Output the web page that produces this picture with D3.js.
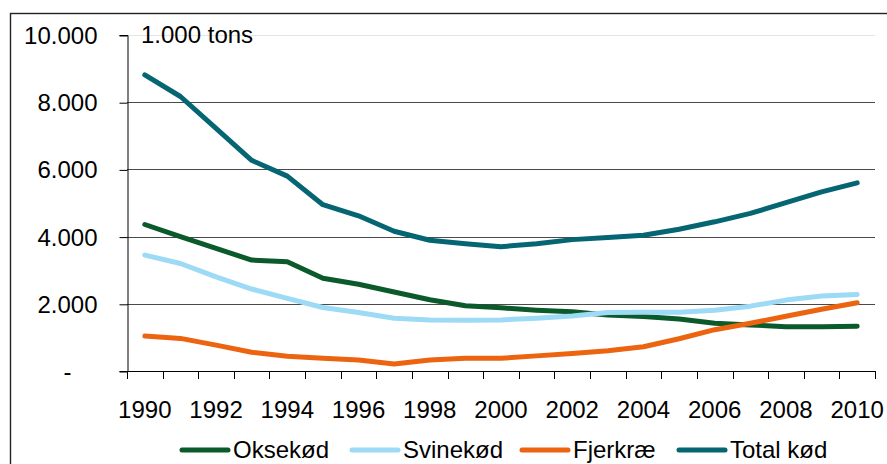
<!DOCTYPE html>
<html>
<head>
<meta charset="utf-8">
<script src="https://cdn.jsdelivr.net/npm/d3@7"></script>
<style>
  html, body { margin: 0; padding: 0; background: #fff; }
  svg { display: block; }
  text { font-family: "Liberation Sans", Arial, sans-serif; fill: #000; }
</style>
</head>
<body>
<svg id="chart" width="887" height="464"></svg>
<script>
// ---- data ----
const years = d3.range(1990, 2011);
const yTicks = [0, 2000, 4000, 6000, 8000, 10000];
const xTickLabels = ["1990","1992","1994","1996","1998","2000","2002","2004","2006","2008","2010"];
const unitLabel = "1.000 tons";

const seriesNames = ["Oksekød", "Svinekød", "Fjerkræ", "Total kød"];
const seriesColors = ["#0b5a2c", "#9cdaf6", "#ec6410", "#056573"];

const oksekod = [4360, 4000, 3650, 3300, 3250, 2760, 2580, 2350, 2120, 1940, 1880, 1810, 1760, 1670, 1620, 1550, 1420, 1370, 1320, 1320, 1330];
const svinekod = [3450, 3200, 2800, 2440, 2160, 1890, 1740, 1570, 1520, 1510, 1520, 1570, 1640, 1740, 1750, 1750, 1810, 1930, 2110, 2230, 2280];
const fjerkrae = [1040, 970, 770, 560, 440, 380, 330, 210, 330, 380, 380, 450, 520, 600, 720, 960, 1230, 1420, 1630, 1840, 2030];
const totalKod = [8810, 8170, 7220, 6270, 5800, 4950, 4620, 4160, 3890, 3790, 3700, 3790, 3910, 3970, 4040, 4220, 4440, 4690, 5010, 5330, 5600];

const seriesValues = [oksekod, svinekod, fjerkrae, totalKod];

// ---- layout ----
const svg = d3.select("#chart");
const plot = { left: 127, right: 875, top: 35, bottom: 371 };

// outer frame
svg.append("rect")
  .attr("x", 10.5).attr("y", 13.5)
  .attr("width", 900).attr("height", 500)
  .attr("fill", "none").attr("stroke", "#222").attr("stroke-width", 1.4);

const x = d3.scaleBand().domain(years).range([plot.left, plot.right]).paddingInner(0).paddingOuter(0);
const y = d3.scaleLinear().domain([0, 10000]).range([plot.bottom, plot.top]);

const fmt = v => v === 0 ? "-" : d3.format(",")(v).replace(/,/g, ".");

// gridlines
svg.append("g")
  .selectAll("line")
  .data(yTicks.filter(v => v > 0))
  .join("line")
  .attr("x1", plot.left).attr("x2", plot.right)
  .attr("y1", d => Math.round(y(d)) + 0.5).attr("y2", d => Math.round(y(d)) + 0.5)
  .attr("stroke", d => d === 10000 ? "#e4e4e4" : "#4a4a4a")
  .attr("stroke-width", 1);

// y axis
const yAxis = svg.append("g")
  .attr("transform", `translate(${plot.left + 0.5},0)`)
  .call(d3.axisLeft(y).tickValues(yTicks).tickFormat(fmt).tickSize(8).tickPadding(22));
yAxis.select(".domain").attr("stroke", "#000");
yAxis.selectAll(".tick line").attr("stroke", "#000").attr("transform", "translate(0,0.5)");
yAxis.selectAll(".tick text")
  .style("font-size", "24px")
  .style("font-family", "'Liberation Sans', Arial, sans-serif")
  .attr("fill", "#000")
  .attr("dy", "0.35em")
  .attr("dx", d => d === 0 ? -26 : 0);

// x axis
const xAxis = svg.append("g")
  .attr("transform", `translate(0,${plot.bottom + 0.5})`)
  .call(d3.axisBottom(x).tickSize(0).tickPadding(0).tickFormat(d => xTickLabels.includes(String(d)) ? String(d) : ""));
xAxis.select(".domain").attr("stroke", "#000").attr("d", `M${plot.left},0H${plot.right}`);
xAxis.selectAll(".tick text")
  .style("font-size", "24px")
  .style("font-family", "'Liberation Sans', Arial, sans-serif")
  .attr("fill", "#000")
  .attr("y", 46)
  .attr("dy", 0);
// category boundary ticks
svg.append("g")
  .selectAll("line")
  .data(years.concat([null]))
  .join("line")
  .attr("x1", (d, i) => Math.round(plot.left + i * x.step()) + 0.5)
  .attr("x2", (d, i) => Math.round(plot.left + i * x.step()) + 0.5)
  .attr("y1", plot.bottom).attr("y2", plot.bottom + 8)
  .attr("stroke", "#000");

// unit label
svg.append("text")
  .attr("x", 141).attr("y", 43)
  .style("font-size", "24px")
  .text(unitLabel);

// lines
const line = d3.line()
  .x((d, i) => x(years[i]) + x.bandwidth() / 2)
  .y(d => y(d));

svg.append("g")
  .selectAll("path")
  .data(seriesValues)
  .join("path")
  .attr("d", d => line(d))
  .attr("fill", "none")
  .attr("stroke", (d, i) => seriesColors[i])
  .attr("stroke-width", 5)
  .attr("stroke-linecap", "round")
  .attr("stroke-linejoin", "round");

// legend
const legendX = [180, 350, 520, 677];
const legendY = 450;
const lg = svg.append("g")
  .selectAll("g")
  .data(seriesNames)
  .join("g")
  .attr("transform", (d, i) => `translate(${legendX[i]},${legendY})`);
lg.append("line")
  .attr("x1", 2).attr("x2", 48)
  .attr("y1", 0).attr("y2", 0)
  .attr("stroke", (d, i) => seriesColors[i])
  .attr("stroke-width", 5)
  .attr("stroke-linecap", "round");
lg.append("text")
  .attr("x", 53).attr("y", 8)
  .style("font-size", "24px")
  .text(d => d);
</script>
</body>
</html>
